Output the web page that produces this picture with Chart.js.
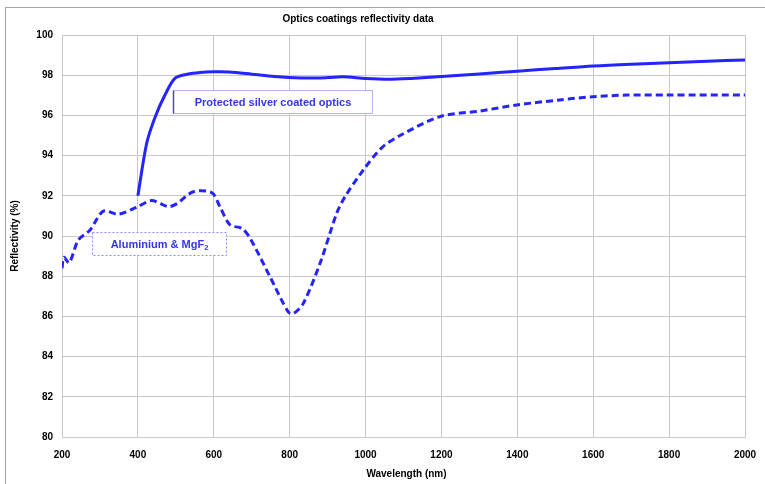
<!DOCTYPE html>
<html>
<head>
<meta charset="utf-8">
<script src="https://cdn.jsdelivr.net/npm/chart.js@4/dist/chart.umd.min.js"></script>
<style>
  body { margin: 0; background: #fff; }
  canvas { display: block; }
</style>
</head>
<body>
<canvas id="reflChart" width="765" height="484"></canvas>
<script>
// Reflectivity data
const silverWl = [400, 423, 445, 471, 498, 530, 564, 600, 640, 700, 760, 830, 900, 940, 1000, 1060, 1120, 1200, 1300, 1400, 1500, 1600, 1700, 1800, 1900, 2000];
const silverR  = [92.0, 94.6, 95.9, 97.0, 97.85, 98.05, 98.14, 98.17, 98.16, 98.05, 97.93, 97.86, 97.88, 97.92, 97.84, 97.8, 97.84, 97.93, 98.06, 98.2, 98.33, 98.46, 98.55, 98.62, 98.7, 98.76];

const aluWl = [200, 205, 219, 243, 274, 309, 348, 397, 436, 480, 502, 546, 595, 616, 643, 674, 696, 748, 796, 810, 836, 880, 924, 946, 994, 1043, 1091, 1196, 1302, 1398, 1512, 1600, 1688, 1800, 2000];
const aluR  = [88.4, 88.94, 88.67, 89.8, 90.3, 91.24, 91.08, 91.43, 91.76, 91.46, 91.6, 92.2, 92.15, 91.46, 90.55, 90.38, 89.88, 87.98, 86.23, 86.14, 86.65, 88.64, 91.13, 91.96, 93.28, 94.4, 95.0, 95.94, 96.22, 96.52, 96.77, 96.93, 97.01, 97.01, 97.01];

const xTicks = [200, 400, 600, 800, 1000, 1200, 1400, 1600, 1800, 2000];
const yTicks = [80, 82, 84, 86, 88, 90, 92, 94, 96, 98, 100];

const lineBlue = '#2424ff';
const textBlue = '#3636e8';
const tickFont = { family: 'Liberation Sans, Arial, sans-serif', size: 10, weight: 'bold' };

function toPoints(xs, ys) {
  return xs.map((x, i) => ({ x: x, y: ys[i] }));
}

// title, axis titles, label boxes and the outer frame
const decorPlugin = {
  id: 'decor',
  beforeDraw(chart) {
    const ctx = chart.ctx;
    ctx.save();
    ctx.fillStyle = '#fff';
    ctx.fillRect(0, 0, chart.width, chart.height);
    ctx.strokeStyle = '#a8a8a8';
    ctx.lineWidth = 1;
    ctx.strokeRect(5.5, 7.5, chart.width + 10, chart.height + 10);
    ctx.restore();
  },
  afterDraw(chart) {
    const ctx = chart.ctx;
    const xs = chart.scales.x, ys = chart.scales.y;
    const area = chart.chartArea;
    ctx.save();
    ctx.fillStyle = '#000';
    ctx.font = 'bold 10px "Liberation Sans", Arial, sans-serif';
    ctx.textAlign = 'center';
    ctx.textBaseline = 'middle';
    ctx.fillText('Optics coatings reflectivity data', 358, 19);
    ctx.fillText('Wavelength (nm)', (area.left + area.right) / 2 + 3, 474);
    ctx.save();
    ctx.translate(15, (area.top + area.bottom) / 2);
    ctx.rotate(-Math.PI / 2);
    ctx.fillText('Reflectivity (%)', 0, 0);
    ctx.restore();

    // Protected silver label box
    let l = Math.round(xs.getPixelForValue(492)) + 0.5;
    let r = Math.round(xs.getPixelForValue(1017)) + 0.5;
    let t = Math.round(ys.getPixelForValue(97.26)) + 0.5;
    let b = Math.round(ys.getPixelForValue(96.12)) + 0.5;
    ctx.fillStyle = '#fff';
    ctx.fillRect(l, t, r - l, b - t);
    ctx.strokeStyle = '#b4b4f0';
    ctx.lineWidth = 1;
    ctx.strokeRect(l, t, r - l, b - t);
    ctx.strokeStyle = '#50508a';
    ctx.lineWidth = 1.5;
    ctx.beginPath();
    ctx.moveTo(l, t);
    ctx.lineTo(l, b);
    ctx.stroke();
    ctx.fillStyle = textBlue;
    ctx.font = 'bold 11px "Liberation Sans", Arial, sans-serif';
    ctx.fillText('Protected silver coated optics', (l + r) / 2, (t + b) / 2 + 0.5);

    // Aluminium label box
    l = Math.round(xs.getPixelForValue(280)) + 0.5;
    r = Math.round(xs.getPixelForValue(632)) + 0.5;
    t = Math.round(ys.getPixelForValue(90.18)) + 0.5;
    b = Math.round(ys.getPixelForValue(89.04)) + 0.5;
    ctx.fillStyle = '#fff';
    ctx.fillRect(l, t, r - l, b - t);
    ctx.strokeStyle = '#8c8cf0';
    ctx.lineWidth = 1;
    ctx.setLineDash([2, 2]);
    ctx.strokeRect(l, t, r - l, b - t);
    ctx.setLineDash([]);
    ctx.fillStyle = textBlue;
    ctx.textAlign = 'left';
    const main = 'Aluminium & MgF';
    ctx.font = 'bold 11px "Liberation Sans", Arial, sans-serif';
    const w1 = ctx.measureText(main).width;
    ctx.font = 'bold 7.5px "Liberation Sans", Arial, sans-serif';
    const w2 = ctx.measureText('2').width;
    const sx = (l + r) / 2 - (w1 + w2) / 2;
    const cy = (t + b) / 2 + 0.5;
    ctx.font = 'bold 11px "Liberation Sans", Arial, sans-serif';
    ctx.fillText(main, sx, cy);
    ctx.font = 'bold 7.5px "Liberation Sans", Arial, sans-serif';
    ctx.fillText('2', sx + w1, cy + 3.5);
    ctx.restore();
  }
};

new Chart(document.getElementById('reflChart'), {
  type: 'line',
  data: {
    datasets: [
      {
        label: 'Protected silver coated optics',
        data: toPoints(silverWl, silverR),
        borderColor: lineBlue,
        borderWidth: 3,
        pointRadius: 0,
        tension: 0.3,
        fill: false
      },
      {
        label: 'Aluminium & MgF2',
        data: toPoints(aluWl, aluR),
        borderColor: lineBlue,
        borderWidth: 3,
        borderDash: [7, 4],
        pointRadius: 0,
        tension: 0.3,
        fill: false
      }
    ]
  },
  options: {
    responsive: false,
    animation: false,
    devicePixelRatio: 1,
    layout: { padding: { top: 35, right: 20, left: 0, bottom: 0 } },
    plugins: {
      legend: { display: false },
      title: { display: false },
      tooltip: { enabled: false }
    },
    scales: {
      x: {
        type: 'linear',
        min: 200,
        max: 2000,
        afterFit: s => { s.height = 47; s.paddingLeft = 0; s.paddingRight = 0; },
        afterBuildTicks: s => { s.ticks = xTicks.map(v => ({ value: v })); },
        ticks: { color: '#000', font: tickFont, padding: 12, maxRotation: 0, callback: v => String(v) },
        grid: { color: '#c8c8c8', lineWidth: 1, drawTicks: false },
        border: { color: '#c8c8c8' }
      },
      y: {
        type: 'linear',
        min: 80,
        max: 100,
        afterFit: s => { s.width = 62; s.paddingTop = 0; s.paddingBottom = 0; },
        afterBuildTicks: s => { s.ticks = yTicks.map(v => ({ value: v })); },
        ticks: { color: '#000', font: tickFont, padding: 9, callback: v => String(v) },
        grid: { color: '#c8c8c8', lineWidth: 1, drawTicks: false },
        border: { color: '#c8c8c8' }
      }
    }
  },
  plugins: [decorPlugin]
});
</script>
</body>
</html>
